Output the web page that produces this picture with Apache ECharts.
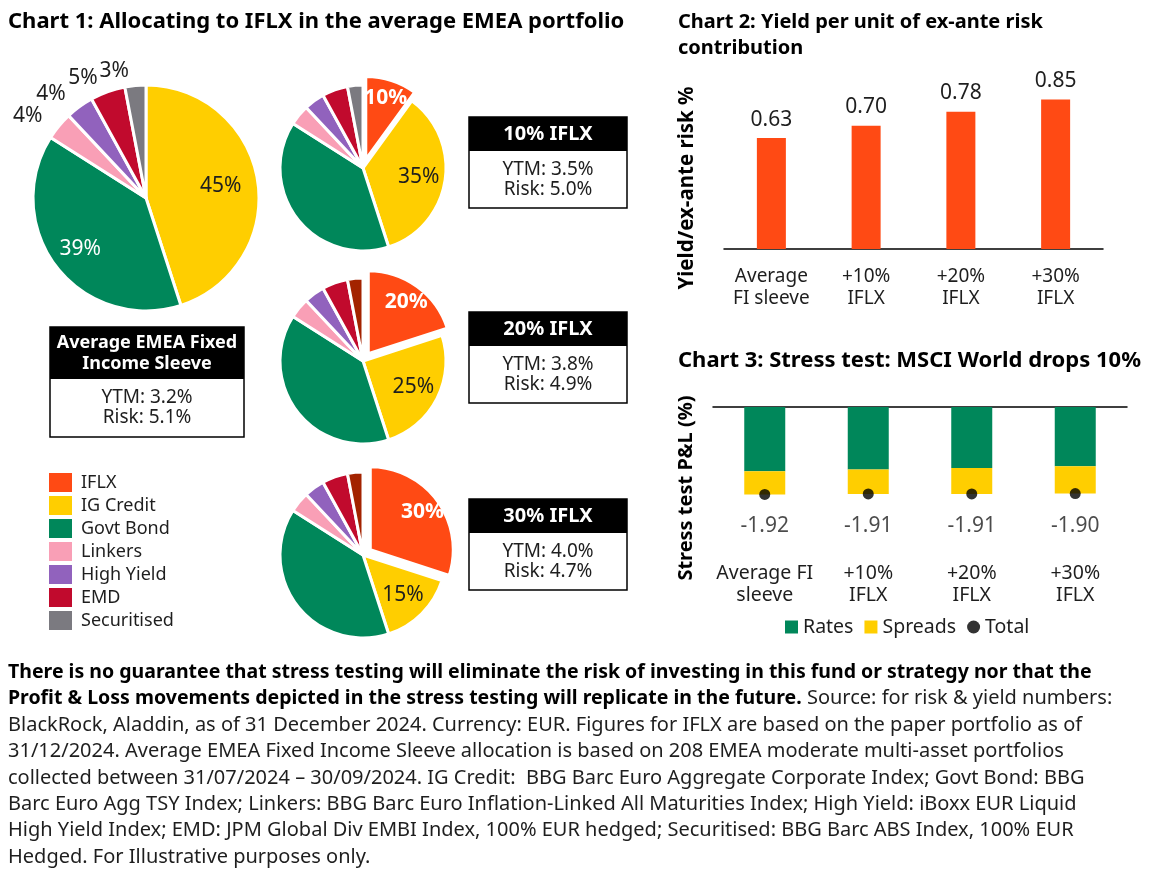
<!DOCTYPE html>
<html>
<head>
<meta charset="utf-8">
<script src="https://cdn.jsdelivr.net/npm/echarts@6/dist/echarts.min.js"></script>
<style>
  html, body { margin: 0; padding: 0; background: #fff; }
  #main { width: 1160px; height: 880px; }
</style>
</head>
<body>
<div id="main"></div>
<script>
const FONT = '"Noto Sans", sans-serif';
const INK = '#1e1e1e';

// Chart 1: allocations in %
const assetNames = ['IFLX', 'IG Credit', 'Govt Bond', 'Linkers', 'High Yield', 'EMD', 'Securitised'];
const allocAverage = [0, 45, 39, 4, 4, 5, 3];
const alloc10 = [10, 35, 39, 4, 4, 5, 3];
const alloc20 = [20, 25, 39, 4, 4, 5, 3];
const alloc30 = [30, 15, 39, 4, 4, 5, 3];
const boxTitles = ['Average EMEA Fixed\nIncome Sleeve', '10% IFLX', '20% IFLX', '30% IFLX'];
const boxYtm = ['3.2', '3.5', '3.8', '4.0'];
const boxRisk = ['5.1', '5.0', '4.9', '4.7'];

// Chart 2: yield per unit of ex-ante risk
const yieldCats = ['Average\nFI sleeve', '+10%\nIFLX', '+20%\nIFLX', '+30%\nIFLX'];
const yieldPerRisk = [0.63, 0.70, 0.78, 0.85];

// Chart 3: stress test P&L (%)
const stressCats = ['Average FI\nsleeve', '+10%\nIFLX', '+20%\nIFLX', '+30%\nIFLX'];
const stressRates = [-1.41, -1.37, -1.34, -1.30];
const stressSpreads = [-0.51, -0.54, -0.57, -0.60];
const stressTotal = [-1.92, -1.91, -1.91, -1.90];

const noteLines = [
  ['b', 'There is no guarantee that stress testing will eliminate the risk of investing in this fund or strategy nor that the'],
  ['b', 'Profit & Loss movements depicted in the stress testing will replicate in the future.', 'r', ' Source: for risk & yield numbers:'],
  ['r', 'BlackRock, Aladdin, as of 31 December 2024. Currency: EUR. Figures for IFLX are based on the paper portfolio as of'],
  ['r', '31/12/2024. Average EMEA Fixed Income Sleeve allocation is based on 208 EMEA moderate multi-asset portfolios'],
  ['r', 'collected between 31/07/2024 \u2013 30/09/2024. IG Credit:  BBG Barc Euro Aggregate Corporate Index; Govt Bond: BBG'],
  ['r', 'Barc Euro Agg TSY Index; Linkers: BBG Barc Euro Inflation-Linked All Maturities Index; High Yield: iBoxx EUR Liquid'],
  ['r', 'High Yield Index; EMD: JPM Global Div EMBI Index, 100% EUR hedged; Securitised: BBG Barc ABS Index, 100% EUR'],
  ['r', 'Hedged. For Illustrative purposes only.']
];

const colors = {
  IFLX: '#FF4A14', 'IG Credit': '#FFCE00', 'Govt Bond': '#00875A', Linkers: '#F99FB6',
  'High Yield': '#9162BD', EMD: '#C10A2D', Securitised: '#7B7A80'
};
const darkSecuritised = '#A32300';

const pies = [
  { alloc: allocAverage, center: [146, 198], r: 113, main: true },
  { alloc: alloc10, center: [363, 168], r: 83 },
  { alloc: alloc20, center: [363, 361], r: 83, darkLast: true },
  { alloc: alloc30, center: [363, 555], r: 83, darkLast: true }
];
const boxes = [
  { x: 50, y: 327, w: 194, head: 52, h: 110, headFont: 'bold 18px ' },
  { x: 469, y: 117, w: 158, head: 34, h: 91, headFont: 'bold 20px ' },
  { x: 469, y: 312, w: 158, head: 34, h: 91, headFont: 'bold 20px ' },
  { x: 469, y: 499, w: 158, head: 34, h: 91, headFont: 'bold 20px ' }
];

// how far out (relative to echarts' mid-radius) each inside label sits
const labelScale = [];

const pieSeries = pies.map(function (p, si) {
  const scales = [];
  const data = [];
  p.alloc.forEach(function (v, i) {
    if (!v) return;
    const name = assetNames[i];
    let color = colors[name];
    if (p.darkLast && name === 'Securitised') color = darkSecuritised;
    const item = { name: name, value: v, itemStyle: { color: color } };
    let k = 1;
    if (name === 'IFLX') {
      item.selected = true;
      item.label = { show: true, position: 'inside', color: '#fff', fontWeight: 'bold' };
      k = 1.45;
    } else if (name === 'IG Credit') {
      item.label = { show: true, position: 'inside', color: INK };
      k = 1.27;
    } else if (name === 'Govt Bond' && p.main) {
      item.label = { show: true, position: 'inside', color: '#fff' };
      k = 1.4;
    } else if (p.main) {
      item.label = { show: true, position: 'outside', color: INK };
    } else {
      item.label = { show: false };
    }
    scales.push(k);
    data.push(item);
  });
  labelScale.push(scales);
  return {
    type: 'pie',
    center: p.center,
    radius: p.r,
    startAngle: 90,
    clockwise: true,
    avoidLabelOverlap: false,
    selectedMode: 'multiple',
    selectedOffset: 9,
    emphasis: { disabled: true },
    itemStyle: { borderColor: '#fff', borderWidth: 3 },
    label: { formatter: '{c}%', fontSize: 21, fontFamily: FONT },
    labelLine: { show: false, length: 15, length2: 0 },
    labelLayout: function (params) {
      const k = labelScale[si][params.dataIndex];
      if (!k || k === 1) return {};
      const lr = params.labelRect;
      const lx = lr.x + lr.width / 2;
      const ly = lr.y + lr.height / 2;
      return { dx: (lx - p.center[0]) * (k - 1), dy: (ly - p.center[1]) * (k - 1) };
    },
    data: data
  };
});

const graphics = [];
function txt(x, y, text, font, extra) {
  const g = {
    type: 'text', x: x, y: y, silent: true,
    style: Object.assign({ text: text, font: font, fill: INK, align: 'left', verticalAlign: 'middle' }, extra || {})
  };
  graphics.push(g);
  return g;
}

// titles
txt(8, 22, 'Chart 1: Allocating to IFLX in the average EMEA portfolio', 'bold 22px ' + FONT, { fill: '#000' });
txt(678, 35, 'Chart 2: Yield per unit of ex-ante risk\ncontribution', 'bold 20px ' + FONT, { fill: '#000', lineHeight: 26 });
txt(678, 361, 'Chart 3: Stress test: MSCI World drops 10%', 'bold 22px ' + FONT, { fill: '#000' });

// rotated axis names
graphics.push({ type: 'text', x: 687, y: 188, rotation: Math.PI / 2, silent: true,
  style: { text: 'Yield/ex-ante risk %', font: 'bold 20.5px ' + FONT, fill: '#000', align: 'center', verticalAlign: 'middle' } });
graphics.push({ type: 'text', x: 686, y: 488, rotation: Math.PI / 2, silent: true,
  style: { text: 'Stress test P&L (%)', font: 'bold 20px ' + FONT, fill: '#000', align: 'center', verticalAlign: 'middle' } });

// portfolio boxes
boxes.forEach(function (b, i) {
  graphics.push({ type: 'rect', shape: { x: b.x, y: b.y, width: b.w, height: b.h }, silent: true,
    style: { fill: '#fff', stroke: '#000', lineWidth: 1.5 } });
  graphics.push({ type: 'rect', shape: { x: b.x, y: b.y, width: b.w, height: b.head }, silent: true,
    style: { fill: '#000' } });
  txt(b.x + b.w / 2, b.y + b.head / 2, boxTitles[i], b.headFont + FONT, { fill: '#fff', align: 'center', lineHeight: 21 });
  txt(b.x + b.w / 2, b.y + b.head + (b.h - b.head) / 2, 'YTM: ' + boxYtm[i] + '%\nRisk: ' + boxRisk[i] + '%',
    '19px ' + FONT, { align: 'center', lineHeight: 20 });
});

// footnote
const noteText = noteLines.map(function (l) {
  let s = '';
  for (let i = 0; i < l.length; i += 2) s += '{' + l[i] + '|' + l[i + 1] + '}';
  return s;
}).join('\n');
graphics.push({ type: 'text', x: 8, y: 659, silent: true,
  style: {
    text: noteText, fill: INK, align: 'left', verticalAlign: 'top',
    rich: {
      b: { fontFamily: FONT, fontSize: 19.5, fontWeight: 'bold', lineHeight: 26.4, fill: '#000' },
      r: { fontFamily: FONT, fontSize: 20, lineHeight: 26.4, fill: INK }
    }
  } });

const chart = echarts.init(document.getElementById('main'), null, { renderer: 'canvas' });
chart.setOption({
  animation: false,
  backgroundColor: '#fff',
  textStyle: { fontFamily: FONT },
  legend: [
    {
      data: assetNames, orient: 'vertical', left: 49, top: 473, padding: 0, icon: 'rect',
      itemWidth: 23, itemHeight: 19, itemGap: 4, selectedMode: false,
      itemStyle: { borderWidth: 0 },
      textStyle: { fontSize: 18, color: INK, fontFamily: FONT, padding: [0, 0, 0, 4] }
    },
    {
      data: [{ name: 'Rates', icon: 'rect' }, { name: 'Spreads', icon: 'rect' }, { name: 'Total', icon: 'circle' }],
      left: 785, top: 617, padding: 0, itemWidth: 13, itemHeight: 13, itemGap: 11, selectedMode: false,
      textStyle: { fontSize: 19.5, color: INK, fontFamily: FONT }
    }
  ],
  grid: [
    { left: 724, top: 73, width: 379, height: 176 },
    { left: 713, top: 407, width: 414, height: 148 }
  ],
  xAxis: [
    { gridIndex: 0, type: 'category', data: yieldCats,
      axisLine: { lineStyle: { color: '#000', width: 1.5 } }, axisTick: { show: false },
      axisLabel: { interval: 0, margin: 17, fontSize: 19, lineHeight: 22, color: INK, fontFamily: FONT } },
    { gridIndex: 1, type: 'category', data: stressCats, position: 'bottom',
      axisLine: { show: false }, axisTick: { show: false },
      axisLabel: { interval: 0, margin: 7, fontSize: 19.5, lineHeight: 22, color: INK, fontFamily: FONT } },
    { gridIndex: 1, type: 'category', data: stressCats, position: 'top',
      axisLine: { lineStyle: { color: '#000', width: 1.5 } }, axisTick: { show: false }, axisLabel: { show: false } }
  ],
  yAxis: [
    { gridIndex: 0, type: 'value', min: 0, max: 1, show: false },
    { gridIndex: 1, type: 'value', min: -3.25, max: 0, show: false }
  ],
  series: pieSeries.concat([
    { name: 'Yield/risk', type: 'bar', xAxisIndex: 0, yAxisIndex: 0, data: yieldPerRisk, barWidth: 29,
      itemStyle: { color: colors.IFLX },
      label: { show: true, position: 'top', distance: 8, fontSize: 21, color: INK, fontFamily: FONT,
        formatter: function (p) { return p.value.toFixed(2); } } },
    { name: 'Rates', type: 'bar', xAxisIndex: 1, yAxisIndex: 1, stack: 'pnl', data: stressRates, barWidth: 41,
      itemStyle: { color: colors['Govt Bond'] } },
    { name: 'Spreads', type: 'bar', xAxisIndex: 1, yAxisIndex: 1, stack: 'pnl', data: stressSpreads, barWidth: 41,
      itemStyle: { color: colors['IG Credit'] } },
    { name: 'Total', type: 'scatter', xAxisIndex: 1, yAxisIndex: 1, data: stressTotal, symbolSize: 11, z: 5,
      itemStyle: { color: '#000' },
      label: { show: true, position: 'bottom', distance: 16, fontSize: 21, color: INK, fontFamily: FONT,
        formatter: function (p) { return p.value.toFixed(2); } } }
  ]),
  graphic: graphics
});
</script>
</body>
</html>
